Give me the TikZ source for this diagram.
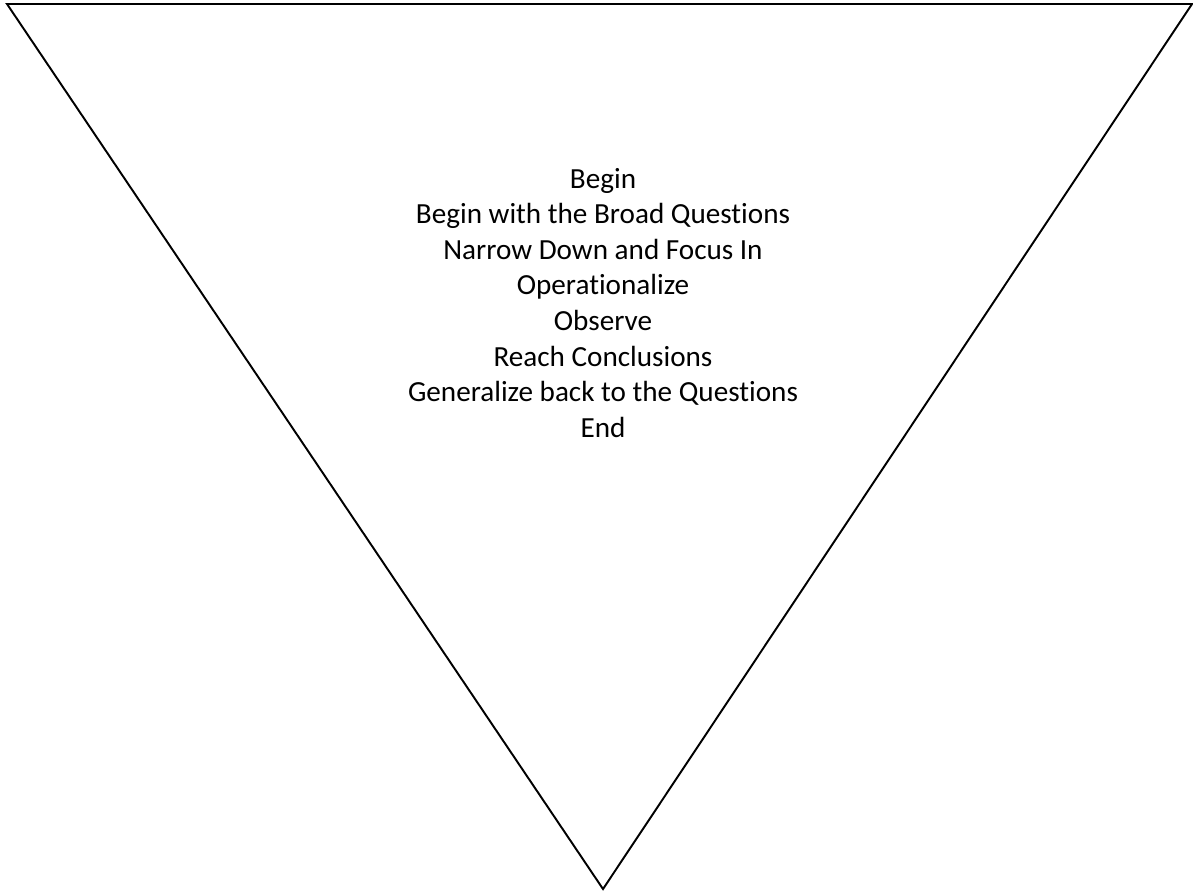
\documentclass[tikz,border=0pt]{standalone}
\usepackage{fontspec}
\setmainfont[Ligatures={NoCommon}]{Carlito}
\usetikzlibrary{positioning}

\begin{document}
\begin{tikzpicture}[x=0.02cm, y=-0.02cm,
                    Funnel/.style={draw, line width=1.1pt, line join=miter},
                    Stage/.style={anchor=base, inner sep=0pt, font=\fontsize{16.6}{20.2}\selectfont}
                    ]
    \useasboundingbox (0,0) rectangle (1193,893);

    % FUNNEL %
    \coordinate (TL) at (7,4);
    \coordinate (TR) at (1192,4);
    \coordinate (Apex) at (603,889);
    \draw[Funnel] (TL) -- (TR) -- (Apex) -- cycle;

    % STAGES %
    \foreach \txt [count=\i from 0] in {Begin,
        Begin with the Broad Questions,
        Narrow Down and Focus In,
        Operationalize,
        Observe,
        Reach Conclusions,
        Generalize back to the Questions,
        End}{
    \node[Stage] (S\i) at (603,188+35.6*\i) {\txt};
    }

\end{tikzpicture}
\end{document}
